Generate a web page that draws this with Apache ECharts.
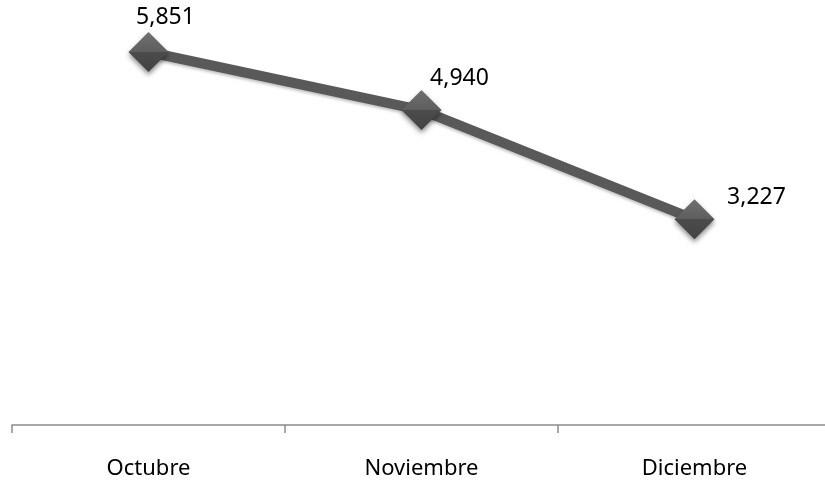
<!DOCTYPE html>
<html>
<head>
<meta charset="utf-8">
<script src="https://cdn.jsdelivr.net/npm/echarts@6/dist/echarts.min.js"></script>
<style>
html,body{margin:0;padding:0;background:#fff;}
#chart{width:825px;height:481px;}
</style>
</head>
<body>
<div id="chart"></div>
<script>
var categories = ["Octubre", "Noviembre", "Diciembre"];
var values = [5851, 4940, 3227];

var labelOffsets = [[17, -35], [38, -32], [62, -22]];

var chart = echarts.init(document.getElementById('chart'), null, {renderer: 'canvas'});

var diamondColor = new echarts.graphic.LinearGradient(0, 0, 0, 1, [
  {offset: 0, color: '#707070'},
  {offset: 0.5, color: '#5e5e5e'},
  {offset: 0.5, color: '#4c4c4c'},
  {offset: 1, color: '#424242'}
]);

var seriesData = values.map(function (v, i) {
  return {
    value: v,
    label: {offset: labelOffsets[i]}
  };
});

chart.setOption({
  animation: false,
  grid: {left: 12, right: -6, top: 42.5, bottom: 56, containLabel: false, outerBoundsMode: 'none'},
  xAxis: {
    type: 'category',
    data: categories,
    boundaryGap: true,
    axisLine: {show: true, lineStyle: {color: '#8c8c8c', width: 1.5}},
    axisTick: {show: true, interval: 0, alignWithLabel: false, length: 8, lineStyle: {color: '#8c8c8c', width: 1.5}},
    axisLabel: {
      margin: 33,
      interval: 0,
      fontFamily: 'Noto Sans',
      fontSize: 22,
      color: '#000'
    }
  },
  yAxis: {
    type: 'value',
    min: 0,
    max: 6000,
    show: false,
    splitLine: {show: false}
  },
  series: [{
    type: 'line',
    data: seriesData,
    symbol: 'diamond',
    symbolSize: 40,
    lineStyle: {
      color: '#595959',
      width: 10,
      shadowColor: 'rgba(0,0,0,0.25)',
      shadowBlur: 3,
      shadowOffsetY: 2
    },
    itemStyle: {
      color: diamondColor,
      shadowColor: 'rgba(0,0,0,0.45)',
      shadowBlur: 5,
      shadowOffsetY: 3
    },
    label: {
      show: true,
      position: 'inside',
      align: 'center',
      verticalAlign: 'middle',
      fontFamily: 'Noto Sans',
      fontSize: 23,
      color: '#000',
      formatter: function (p) {
        return p.value.toLocaleString('en-US');
      }
    },
    z: 3
  }]
});
</script>
</body>
</html>
